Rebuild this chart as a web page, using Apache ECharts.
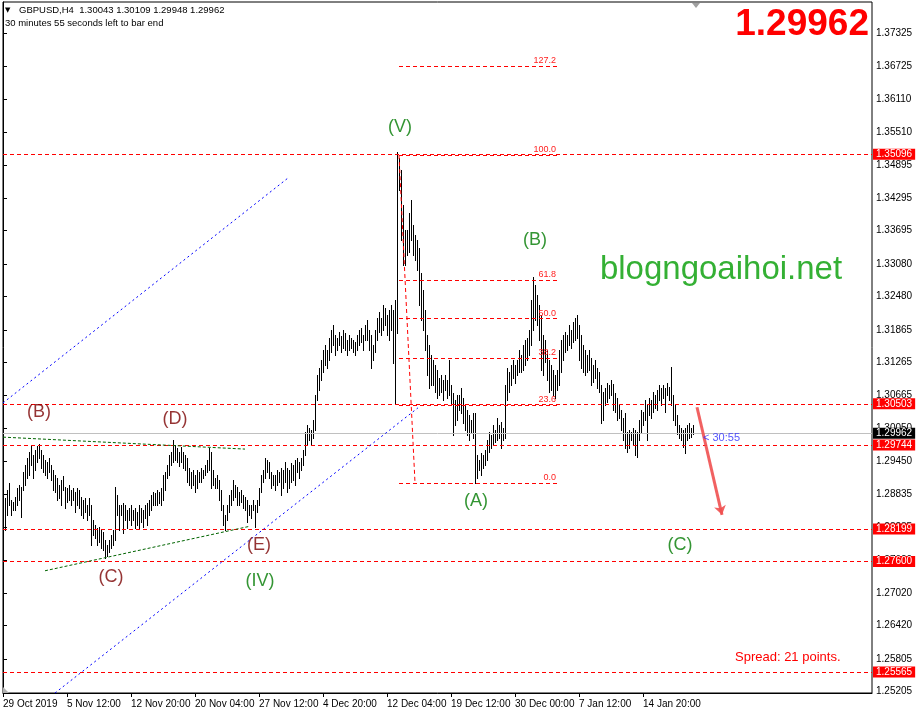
<!DOCTYPE html>
<html><head><meta charset="utf-8">
<script src="https://cdn.jsdelivr.net/npm/echarts@6/dist/echarts.min.js"></script>
<style>html,body{margin:0;padding:0;background:#fff}#c{width:919px;height:717px}</style>
</head><body><div id="c"></div>
<script>
// ---- DATA (GBPUSD H4, one entry per bar, oldest first) ----
var barHigh = [
1.2864,1.2877,1.2892,1.2904,1.2873,1.2870,1.2879,1.2896,1.2901,1.2898,
1.2925,1.2938,1.2951,1.2962,1.2973,1.2956,1.2965,1.2973,1.2976,1.2965,
1.2956,1.2947,1.2943,1.2951,1.2938,1.2929,1.2919,1.2914,1.2901,1.2910,
1.2917,1.2898,1.2896,1.2901,1.2892,1.2896,1.2888,1.2896,1.2892,1.2879,
1.2873,1.2877,1.2864,1.2877,1.2864,1.2837,1.2827,1.2822,1.2824,1.2818,
1.2815,1.2800,1.2791,1.2800,1.2809,1.2818,1.2898,1.2883,1.2864,1.2864,
1.2868,1.2864,1.2855,1.2859,1.2864,1.2855,1.2859,1.2851,1.2864,1.2859,
1.2855,1.2864,1.2868,1.2873,1.2883,1.2888,1.2886,1.2892,1.2888,1.2896,
1.2919,1.2925,1.2938,1.2956,1.2962,1.2984,1.2975,1.2969,1.2962,1.2971,
1.2962,1.2956,1.2951,1.2932,1.2925,1.2929,1.2919,1.2929,1.2925,1.2932,
1.2929,1.2938,1.2947,1.2969,1.2962,1.2929,1.2914,1.2919,1.2910,1.2892,
1.2864,1.2846,1.2864,1.2883,1.2892,1.2910,1.2901,1.2898,1.2888,1.2892,
1.2883,1.2879,1.2873,1.2864,1.2864,1.2873,1.2864,1.2873,1.2896,1.2919,
1.2929,1.2951,1.2947,1.2943,1.2925,1.2919,1.2919,1.2929,1.2925,1.2932,
1.2929,1.2943,1.2932,1.2929,1.2941,1.2938,1.2947,1.2951,1.2943,1.2951,
1.2965,1.2999,1.3012,1.3006,1.3002,1.3021,1.3067,1.3103,1.3116,1.3131,
1.3149,1.3159,1.3149,1.3171,1.3186,1.3195,1.3177,1.3171,1.3182,1.3175,
1.3186,1.3180,1.3168,1.3177,1.3171,1.3168,1.3164,1.3177,1.3186,1.3190,
1.3177,1.3195,1.3205,1.3186,1.3177,1.3159,1.3186,1.3208,1.3219,1.3208,
1.3232,1.3227,1.3214,1.3223,1.3232,1.3223,1.3242,1.3514,1.3503,1.3481,
1.3416,1.3370,1.3370,1.3401,1.3426,1.3380,1.3361,1.3352,1.3337,1.3291,
1.3260,1.3223,1.3177,1.3159,1.3140,1.3131,1.3122,1.3113,1.3098,1.3103,
1.3094,1.3103,1.3094,1.3131,1.3085,1.3070,1.3057,1.3067,1.3067,1.3080,
1.3061,1.3048,1.3039,1.3030,1.3021,1.3034,1.3034,1.2956,1.2947,1.2960,
1.2956,1.2965,1.2984,1.2999,1.2993,1.3012,1.3002,1.3024,1.3012,1.3017,
1.3006,1.3085,1.3116,1.3109,1.3122,1.3131,1.3122,1.3131,1.3149,1.3140,
1.3159,1.3168,1.3171,1.3186,1.3242,1.3284,1.3269,1.3251,1.3232,1.3214,
1.3177,1.3168,1.3149,1.3131,1.3122,1.3113,1.3103,1.3113,1.3149,1.3168,
1.3177,1.3182,1.3177,1.3195,1.3186,1.3201,1.3208,1.3214,1.3195,1.3177,
1.3159,1.3149,1.3140,1.3149,1.3135,1.3122,1.3131,1.3116,1.3109,1.3085,
1.3072,1.3080,1.3089,1.3085,1.3094,1.3087,1.3070,1.3061,1.3048,1.3039,
1.3024,1.3034,1.2999,1.3002,1.2999,1.3006,1.3002,1.2999,1.3021,1.3039,
1.3035,1.3057,1.3048,1.3061,1.3057,1.3072,1.3067,1.3076,1.3085,1.3080,
1.3085,1.3080,1.3089,1.3081,1.3118,1.3067,1.3048,1.3030,1.3011,1.3006,
1.3002,1.3006,1.3011,1.3015,1.3006,1.30109];
var barLow = [
1.2809,1.2818,1.2846,1.2864,1.2846,1.2855,1.2855,1.2864,1.2873,1.2842,
1.2892,1.2901,1.2914,1.2919,1.2938,1.2914,1.2929,1.2943,1.2951,1.2932,
1.2925,1.2919,1.2914,1.2925,1.2910,1.2892,1.2888,1.2873,1.2877,1.2864,
1.2892,1.2859,1.2870,1.2873,1.2864,1.2873,1.2851,1.2864,1.2859,1.2846,
1.2840,1.2851,1.2837,1.2846,1.2791,1.2809,1.2803,1.2791,1.2796,1.2785,
1.2781,1.2766,1.2770,1.2778,1.2785,1.2791,1.2800,1.2846,1.2818,1.2846,
1.2813,1.2837,1.2822,1.2837,1.2827,1.2837,1.2822,1.2827,1.2822,1.2833,
1.2824,1.2840,1.2827,1.2846,1.2855,1.2864,1.2864,1.2864,1.2868,1.2864,
1.2873,1.2892,1.2914,1.2919,1.2938,1.2943,1.2947,1.2943,1.2936,1.2943,
1.2932,1.2929,1.2906,1.2901,1.2896,1.2901,1.2888,1.2896,1.2906,1.2906,
1.2914,1.2919,1.2925,1.2929,1.2896,1.2901,1.2896,1.2896,1.2873,1.2855,
1.2827,1.2818,1.2837,1.2851,1.2864,1.2873,1.2879,1.2864,1.2864,1.2870,
1.2859,1.2855,1.2833,1.2846,1.2840,1.2855,1.2824,1.2851,1.2864,1.2888,
1.2906,1.2914,1.2925,1.2914,1.2896,1.2901,1.2892,1.2901,1.2906,1.2883,
1.2896,1.2906,1.2888,1.2896,1.2906,1.2910,1.2901,1.2925,1.2914,1.2929,
1.2938,1.2956,1.2975,1.2984,1.2975,1.2988,1.3002,1.3057,1.3076,1.3094,
1.3109,1.3122,1.3116,1.3131,1.3146,1.3159,1.3140,1.3149,1.3159,1.3146,
1.3153,1.3149,1.3140,1.3149,1.3153,1.3146,1.3140,1.3149,1.3159,1.3164,
1.3149,1.3168,1.3168,1.3149,1.3116,1.3131,1.3146,1.3168,1.3182,1.3177,
1.3186,1.3195,1.3177,1.3168,1.3186,1.3126,1.3052,1.3180,1.3444,1.3352,
1.3306,1.3306,1.3324,1.3330,1.3352,1.3324,1.3315,1.3297,1.3232,1.3205,
1.3186,1.3149,1.3103,1.3080,1.3085,1.3085,1.3072,1.3061,1.3067,1.3072,
1.3057,1.3076,1.3061,1.3067,1.3048,1.2993,1.3011,1.3021,1.3039,1.3034,
1.3015,1.3002,1.2993,1.2984,1.2999,1.2988,1.2905,1.2914,1.2929,1.2919,
1.2932,1.2938,1.2947,1.2962,1.2969,1.2975,1.2980,1.2984,1.2988,1.2969,
1.2984,1.2988,1.3057,1.3072,1.3085,1.3098,1.3089,1.3103,1.3109,1.3109,
1.3113,1.3122,1.3131,1.3140,1.3159,1.3186,1.3205,1.3195,1.3168,1.3113,
1.3103,1.3127,1.3094,1.3072,1.3076,1.3067,1.3061,1.3076,1.3085,1.3109,
1.3131,1.3146,1.3149,1.3159,1.3153,1.3164,1.3168,1.3171,1.3131,1.3116,
1.3109,1.3103,1.3109,1.3113,1.3085,1.3091,1.3098,1.3080,1.3072,1.3015,
1.3021,1.3048,1.3054,1.3061,1.3067,1.3039,1.3035,1.3021,1.3024,1.3002,
1.2984,1.2969,1.2962,1.2969,1.2984,1.2975,1.2956,1.2952,1.2984,1.2999,
1.3011,1.3021,1.2984,1.3030,1.3024,1.3035,1.3043,1.3039,1.3057,1.3048,
1.3061,1.3035,1.3067,1.3057,1.3048,1.3021,1.3011,1.2995,1.2988,1.2984,
1.2971,1.2960,1.2984,1.2988,1.2990,1.29948];

var timeTickIndex  = [0, 32, 64, 96, 128, 160, 192, 224, 256, 288, 320];
var timeTickLabels = ['29 Oct 2019','5 Nov 12:00','12 Nov 20:00','20 Nov 04:00','27 Nov 12:00','4 Dec 20:00','12 Dec 04:00','19 Dec 12:00','30 Dec 00:00','7 Jan 12:00','14 Jan 20:00'];
var priceTicks = [1.37325,1.36725,1.36110,1.35510,1.34895,1.34295,1.33695,1.33080,1.32480,1.31865,1.31265,1.30665,1.30050,1.29450,1.28835,1.28235,1.27620,1.27020,1.26420,1.25805,1.25205];

var levelPrices = [1.35096, 1.30503, 1.29744, 1.28199, 1.27600, 1.25565];
var currentPrice = 1.29962;

var fibLabels = ['127.2','100.0','61.8','50.0','38.2','23.6','0.0'];
var fibPrices = [1.3672, 1.3508, 1.3278, 1.3207, 1.3135, 1.3048, 1.2905];
var fibFrom = 198, fibTo = 277;
var fibDiagonal = [[198, 1.3508], [206, 1.2905]];

var waveText  = ['(V)','(B)','(A)','(C)','(IV)','(B)','(D)','(C)','(E)'];
var waveBar   = [198.5, 266, 236.5, 338.5, 128.5, 18, 86, 54, 128];
var wavePrice = [1.3560, 1.3352, 1.2871, 1.2790, 1.2724, 1.3035, 1.3022, 1.2732, 1.2790];
var waveDegree = ['g','g','g','g','g','r','r','r','r'];

var blueLines  = [[[0, 1.3052], [142.5, 1.3466]], [[26, 1.2518], [207.5, 1.3043]]];
var greenLines = [[[0, 1.2989], [121, 1.2967]], [[21, 1.2743], [123.5, 1.2825]]];
var arrowLine  = [[347, 1.3044], [359.5, 1.2846]];
var timerPoint = [350, 1.2987];

// ---- CHART ----
var FONT = '"Liberation Sans", Arial, sans-serif';
var bars = barHigh.map(function (h, i) { return [i, barLow[i], h]; });

function seg(p, style) {
  return [{coord: p[0], lineStyle: style}, {coord: p[1]}];
}

var chart = echarts.init(document.getElementById('c'), null, {renderer: 'canvas'});
var option = {
  animation: false,
  backgroundColor: '#fff',
  textStyle: {fontFamily: FONT},
  grid: {left: 3, right: 47, top: 2, bottom: 24, show: true, borderColor: '#000', borderWidth: 1, backgroundColor: '#fff'},
  xAxis: {
    type: 'value', min: 0, max: 434.5,
    axisLine: {show: true, lineStyle: {color: '#000'}},
    axisTick: {show: true, customValues: timeTickIndex, length: 4, lineStyle: {color: '#000'}},
    axisLabel: {customValues: timeTickIndex, align: 'left', margin: 6, color: '#000', fontSize: 10, fontFamily: FONT,
      formatter: function (v) { var k = timeTickIndex.indexOf(v); return k >= 0 ? timeTickLabels[k] : ''; }},
    splitLine: {show: false}
  },
  yAxis: {
    type: 'value', position: 'right', min: 1.2518, max: 1.3790,
    axisLine: {show: true, lineStyle: {color: '#000'}},
    axisTick: {show: true, customValues: priceTicks, length: 4, lineStyle: {color: '#000'}},
    axisLabel: {customValues: priceTicks, margin: 4, color: '#000', fontSize: 10, fontFamily: FONT,
      formatter: function (v) { return v.toFixed(5); }},
    splitLine: {show: false}
  },
  series: [
    {
      type: 'custom', name: 'bars', data: bars, encode: {x: 0, y: [1, 2]}, z: 3,
      renderItem: function (params, api) {
        var lo = api.coord([api.value(0), api.value(1)]);
        var hi = api.coord([api.value(0), api.value(2)]);
        var y0 = Math.round(hi[1]), y1 = Math.round(lo[1]);
        return {type: 'rect', shape: {x: Math.round(lo[0]), y: y0, width: 1, height: Math.max(1, y1 - y0 + 1)},
          style: {fill: '#000'}};
      }
    },
    {
      type: 'line', name: 'levels', data: [], z: 2,
      markLine: {
        silent: true, symbol: 'none', animation: false, precision: 6,
        lineStyle: {color: '#ff0000', type: [4, 3], width: 1},
        label: {show: true, position: 'end', distance: 1, color: '#fff', backgroundColor: '#ff0000',
          padding: [1, 3, 0, 3], fontSize: 10, fontFamily: FONT, lineHeight: 10},
        data: levelPrices.map(function (p) { return {yAxis: p, label: {formatter: p.toFixed(5)}}; }).concat([
          {yAxis: currentPrice, lineStyle: {color: '#c0c0c0', type: 'solid'},
           label: {formatter: currentPrice.toFixed(5), backgroundColor: '#000', color: '#fff'}}
        ])
      }
    },
    {
      type: 'line', name: 'fib', data: [], z: 2,
      markLine: {
        silent: true, symbol: 'none', animation: false, precision: 6,
        lineStyle: {color: '#ff0000', type: [4, 3], width: 1},
        label: {show: true, position: 'insideEndTop', distance: 1, color: '#ff2020', fontSize: 9, fontFamily: FONT},
        data: fibPrices.map(function (p, k) {
          return [{coord: [fibFrom, p], label: {formatter: fibLabels[k]}}, {coord: [fibTo, p]}];
        }).concat([[{coord: fibDiagonal[0], label: {show: false}}, {coord: fibDiagonal[1]}]])
      }
    },
    {
      type: 'line', name: 'trend', data: [], z: 4,
      markLine: {
        silent: true, symbol: 'none', animation: false, precision: 6, label: {show: false},
        data: [
          seg(blueLines[0], {color: '#0000ff', type: [2, 3], width: 1}),
          seg(blueLines[1], {color: '#0000ff', type: [2, 3], width: 1}),
          seg(greenLines[0], {color: '#006400', type: [3, 2], width: 1}),
          seg(greenLines[1], {color: '#006400', type: [3, 2], width: 1})
        ]
      }
    },
    {
      type: 'line', name: 'arrow', data: [], z: 5,
      markLine: {
        silent: true, symbol: ['none', 'arrow'], symbolSize: 9, animation: false, precision: 6, label: {show: false},
        lineStyle: {color: '#f05050', type: 'solid', width: 3, opacity: 0.9},
        data: [[{coord: arrowLine[0]}, {coord: arrowLine[1]}]]
      }
    },
    {
      type: 'scatter', name: 'waves', symbolSize: 0, z: 6, silent: true,
      data: waveText.map(function (t, k) {
        return {value: [waveBar[k], wavePrice[k]],
          label: {formatter: t, color: waveDegree[k] === 'g' ? '#007a00' : '#7a0000'}};
      }),
      label: {show: true, position: 'inside', fontSize: 18, fontFamily: FONT}
    },
    {
      type: 'scatter', name: 'timer', symbolSize: 0, z: 6, silent: true,
      data: [{value: timerPoint, label: {formatter: '< 30:55'}}],
      label: {show: true, position: 'right', distance: 0, color: '#2b2bff', fontSize: 11, fontFamily: FONT}
    }
  ],
  graphic: [
    {type: 'text', x: 5, y: 10, z: 10, style: {text: '\u25BC', font: '7px "DejaVu Sans"', fill: '#000', verticalAlign: 'middle'}},
    {type: 'text', x: 19, y: 10, z: 10, style: {text: 'GBPUSD,H4  1.30043 1.30109 1.29948 1.29962', font: '9.5px ' + FONT, fill: '#000', verticalAlign: 'middle'}},
    {type: 'text', x: 5, y: 23, z: 10, style: {text: '30 minutes 55 seconds left to bar end', font: '9.5px ' + FONT, fill: '#000', verticalAlign: 'middle'}},
    {type: 'text', x: 869, y: 25, z: 10, style: {text: '1.29962', font: 'bold 37px ' + FONT, fill: '#ff0000', align: 'right', verticalAlign: 'middle'}},
    {type: 'text', x: 721, y: 270, z: 10, style: {text: 'blogngoaihoi.net', font: '33px ' + FONT, fill: '#34b034', align: 'center', verticalAlign: 'middle'}},
    {type: 'text', x: 735, y: 657, z: 10, style: {text: 'Spread: 21 points.', font: '13px ' + FONT, fill: '#ff0000', verticalAlign: 'middle'}},
    {type: 'polygon', z: 10, shape: {points: [[692, 3], [700, 3], [696, 8]]}, style: {fill: '#a0a0a0'}},
    {type: 'polygon', z: 10, shape: {points: [[3, 687], [3, 693], [9, 693]]}, style: {fill: '#b0b0b0'}}
  ]
};
chart.setOption(option);
</script>
</body></html>
